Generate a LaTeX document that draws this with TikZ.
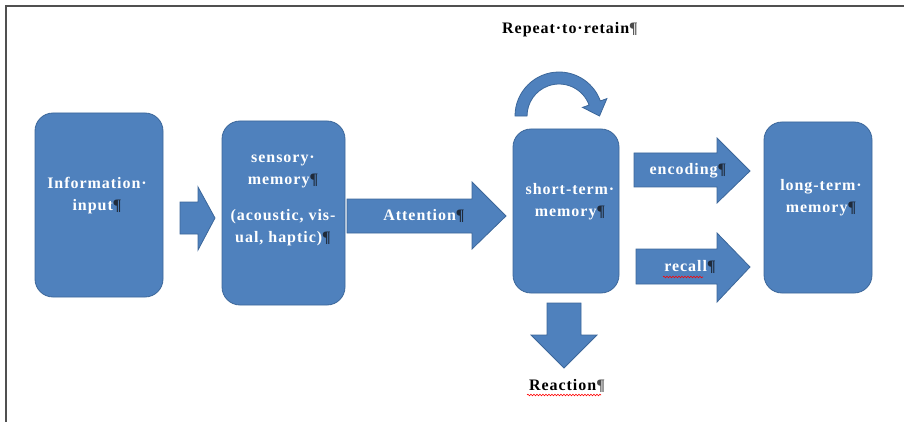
\documentclass[tikz,border=0pt]{standalone}
\usepackage{fontspec}
\setmainfont{Liberation Serif}
\newfontfamily\lblfont[LetterSpace=6]{Liberation Serif}
\usetikzlibrary{decorations.pathmorphing}
\definecolor{boxblue}{HTML}{4F81BD}
\definecolor{boxedge}{HTML}{3C679A}
\definecolor{framegray}{HTML}{505050}
\definecolor{pilcol}{HTML}{1F2A3A}
\newcommand{\pil}{\textcolor{pilcol}{¶}}
\newcommand{\pilg}{\textcolor{black!70}{¶}}
\begin{document}
\begin{tikzpicture}[x=1pt,y=-1pt,
  membox/.style={draw=boxedge, line width=0.8pt, fill=boxblue, rounded corners=18pt, inner sep=0pt},
  blockarrow/.style={draw=boxedge, line width=0.8pt, fill=boxblue, line join=miter},
  intext/.style={text=white, font=\lblfont\bfseries\fontsize{16}{22}\selectfont, align=center, inner sep=0pt},
  outtext/.style={text=black, font=\lblfont\bfseries\fontsize{16}{22}\selectfont, inner sep=0pt},
  squiggle/.style={draw=red, line width=0.6pt, decorate, decoration={snake, amplitude=0.8pt, segment length=3pt}}
]
\useasboundingbox (0,0) rectangle (904,422);
\draw[framegray, line width=2pt] (5.5,422) -- (5.5,6.5) -- (904,6.5);

% memory boxes
\node[membox, minimum width=128pt, minimum height=184pt] (info) at (99,205) {};
\node[membox, minimum width=123pt, minimum height=184pt] (sens) at (283.5,213) {};
\node[membox, minimum width=106pt, minimum height=164pt] (stm) at (566,211) {};
\node[membox, minimum width=108pt, minimum height=171pt] (ltm) at (818,207.5) {};

% block arrows
\draw[blockarrow] (180,202) -- (198,202) -- (198,187) -- (215,218) -- (198,250) -- (198,234) -- (180,234) -- cycle;
\draw[blockarrow] (347,199) -- (472,199) -- (472,182) -- (506,216) -- (472,249) -- (472,233) -- (347,233) -- cycle;
\draw[blockarrow] (634,153) -- (717,153) -- (717,138) -- (750,171) -- (717,203) -- (717,187) -- (634,187) -- cycle;
\draw[blockarrow] (636,249) -- (717,249) -- (717,233) -- (750,267) -- (717,302) -- (717,284) -- (636,284) -- cycle;
\draw[blockarrow] (547,303) -- (581,303) -- (581,335) -- (597,335) -- (564,368) -- (531,335) -- (547,335) -- cycle;

% curved arrow (repeat)
\draw[blockarrow] (515,116) arc[start angle=180, end angle=340, radius=44]
  -- (606.9,98.6) -- (599.5,116) -- (582.5,107.4) -- (589.1,105.1)
  arc[start angle=340, end angle=180, radius=32] -- cycle;

% texts
\node[intext] (infot) at (97,196) {Information·\\input\pil};
\node[intext] (senst) at (283,200) {sensory·\\memory\pil\\[14pt](acoustic, vis-\\ual, haptic)\pil};
\node[intext] (stmt) at (570,202) {short-term·\\memory\pil};
\node[intext] (ltmt) at (821,198) {long-term·\\memory\pil};
\node[intext] (att) at (424,216) {Attention\pil};
\node[intext] (enc) at (688,171) {encoding\pil};
\node[intext] (rec) at (690,267) {recall\pil};
\node[outtext] (rep) at (570,30) {Repeat·to·retain\pilg};
\node[outtext] (rea) at (567,386) {Reaction\pilg};

\draw[squiggle] (527,395) -- (601,395);
\draw[squiggle] (663,277) -- (703,277);
\end{tikzpicture}
\end{document}
